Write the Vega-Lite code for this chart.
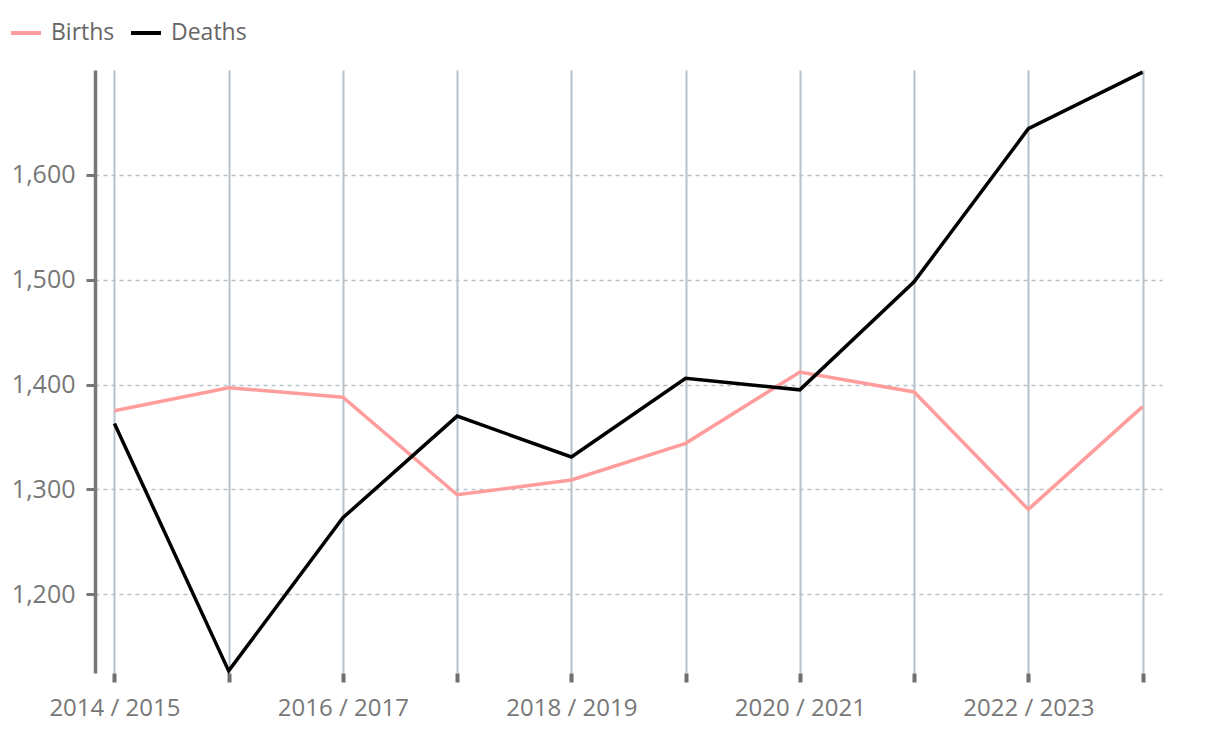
{
  "$schema": "https://vega.github.io/schema/vega-lite/v6.json",
  "width": 1067,
  "height": 603,
  "autosize": "none",
  "padding": {"left": 95, "top": 70, "right": 58, "bottom": 59},
  "background": "#ffffff",
  "config": {
    "font": "Open Sans",
    "view": {"stroke": null}
  },
  "data": {
    "values": [
      {"year": "2014 / 2015", "series": "Births", "value": 1375},
      {"year": "2015 / 2016", "series": "Births", "value": 1397},
      {"year": "2016 / 2017", "series": "Births", "value": 1388},
      {"year": "2017 / 2018", "series": "Births", "value": 1295},
      {"year": "2018 / 2019", "series": "Births", "value": 1309},
      {"year": "2019 / 2020", "series": "Births", "value": 1344},
      {"year": "2020 / 2021", "series": "Births", "value": 1412},
      {"year": "2021 / 2022", "series": "Births", "value": 1393},
      {"year": "2022 / 2023", "series": "Births", "value": 1281},
      {"year": "2023 / 2024", "series": "Births", "value": 1379},
      {"year": "2014 / 2015", "series": "Deaths", "value": 1363},
      {"year": "2015 / 2016", "series": "Deaths", "value": 1127},
      {"year": "2016 / 2017", "series": "Deaths", "value": 1273},
      {"year": "2017 / 2018", "series": "Deaths", "value": 1370},
      {"year": "2018 / 2019", "series": "Deaths", "value": 1331},
      {"year": "2019 / 2020", "series": "Deaths", "value": 1406},
      {"year": "2020 / 2021", "series": "Deaths", "value": 1395},
      {"year": "2021 / 2022", "series": "Deaths", "value": 1498},
      {"year": "2022 / 2023", "series": "Deaths", "value": 1644},
      {"year": "2023 / 2024", "series": "Deaths", "value": 1698}
    ]
  },
  "mark": {"type": "line", "strokeWidth": 3.5, "strokeJoin": "miter"},
  "encoding": {
    "x": {
      "field": "year",
      "type": "ordinal",
      "sort": null,
      "scale": {"type": "point", "padding": 0.17},
      "axis": {
        "title": null,
        "domain": false,
        "grid": true,
        "gridColor": "#b6c1c9",
        "gridWidth": 2,
        "ticks": true,
        "tickColor": "#6f6f6f",
        "tickWidth": 4,
        "tickSize": 9,
        "labelAngle": 0,
        "labelOverlap": false,
        "labelFontSize": 24,
        "labelColor": "#777777",
        "labelPadding": 14,
        "labelExpr": "indexof(['2014 / 2015','2016 / 2017','2018 / 2019','2020 / 2021','2022 / 2023'], datum.value) >= 0 ? datum.label : ''"
      }
    },
    "y": {
      "field": "value",
      "type": "quantitative",
      "scale": {"domain": [1125, 1700], "zero": false, "nice": false},
      "axis": {
        "title": null,
        "values": [1200, 1300, 1400, 1500, 1600],
        "format": ",d",
        "domain": true,
        "domainColor": "#777777",
        "domainWidth": 3.5,
        "grid": true,
        "gridColor": "#b6c1c9",
        "gridWidth": 1.5,
        "gridDash": [4, 4],
        "ticks": true,
        "tickColor": "#777777",
        "tickWidth": 3,
        "tickSize": 9,
        "labelFontSize": 25,
        "labelColor": "#777777",
        "labelPadding": 11
      }
    },
    "color": {
      "field": "series",
      "type": "nominal",
      "scale": {"domain": ["Births", "Deaths"], "range": ["#ff9c9c", "#000000"]},
      "legend": {
        "title": null,
        "orient": "none",
        "direction": "horizontal",
        "legendX": -86,
        "legendY": -54,
        "padding": 0,
        "symbolType": "stroke",
        "symbolSize": 900,
        "symbolStrokeWidth": 4,
        "labelFontSize": 23,
        "labelColor": "#666666",
        "labelOffset": 8,
        "columnPadding": 8
      }
    }
  }
}
